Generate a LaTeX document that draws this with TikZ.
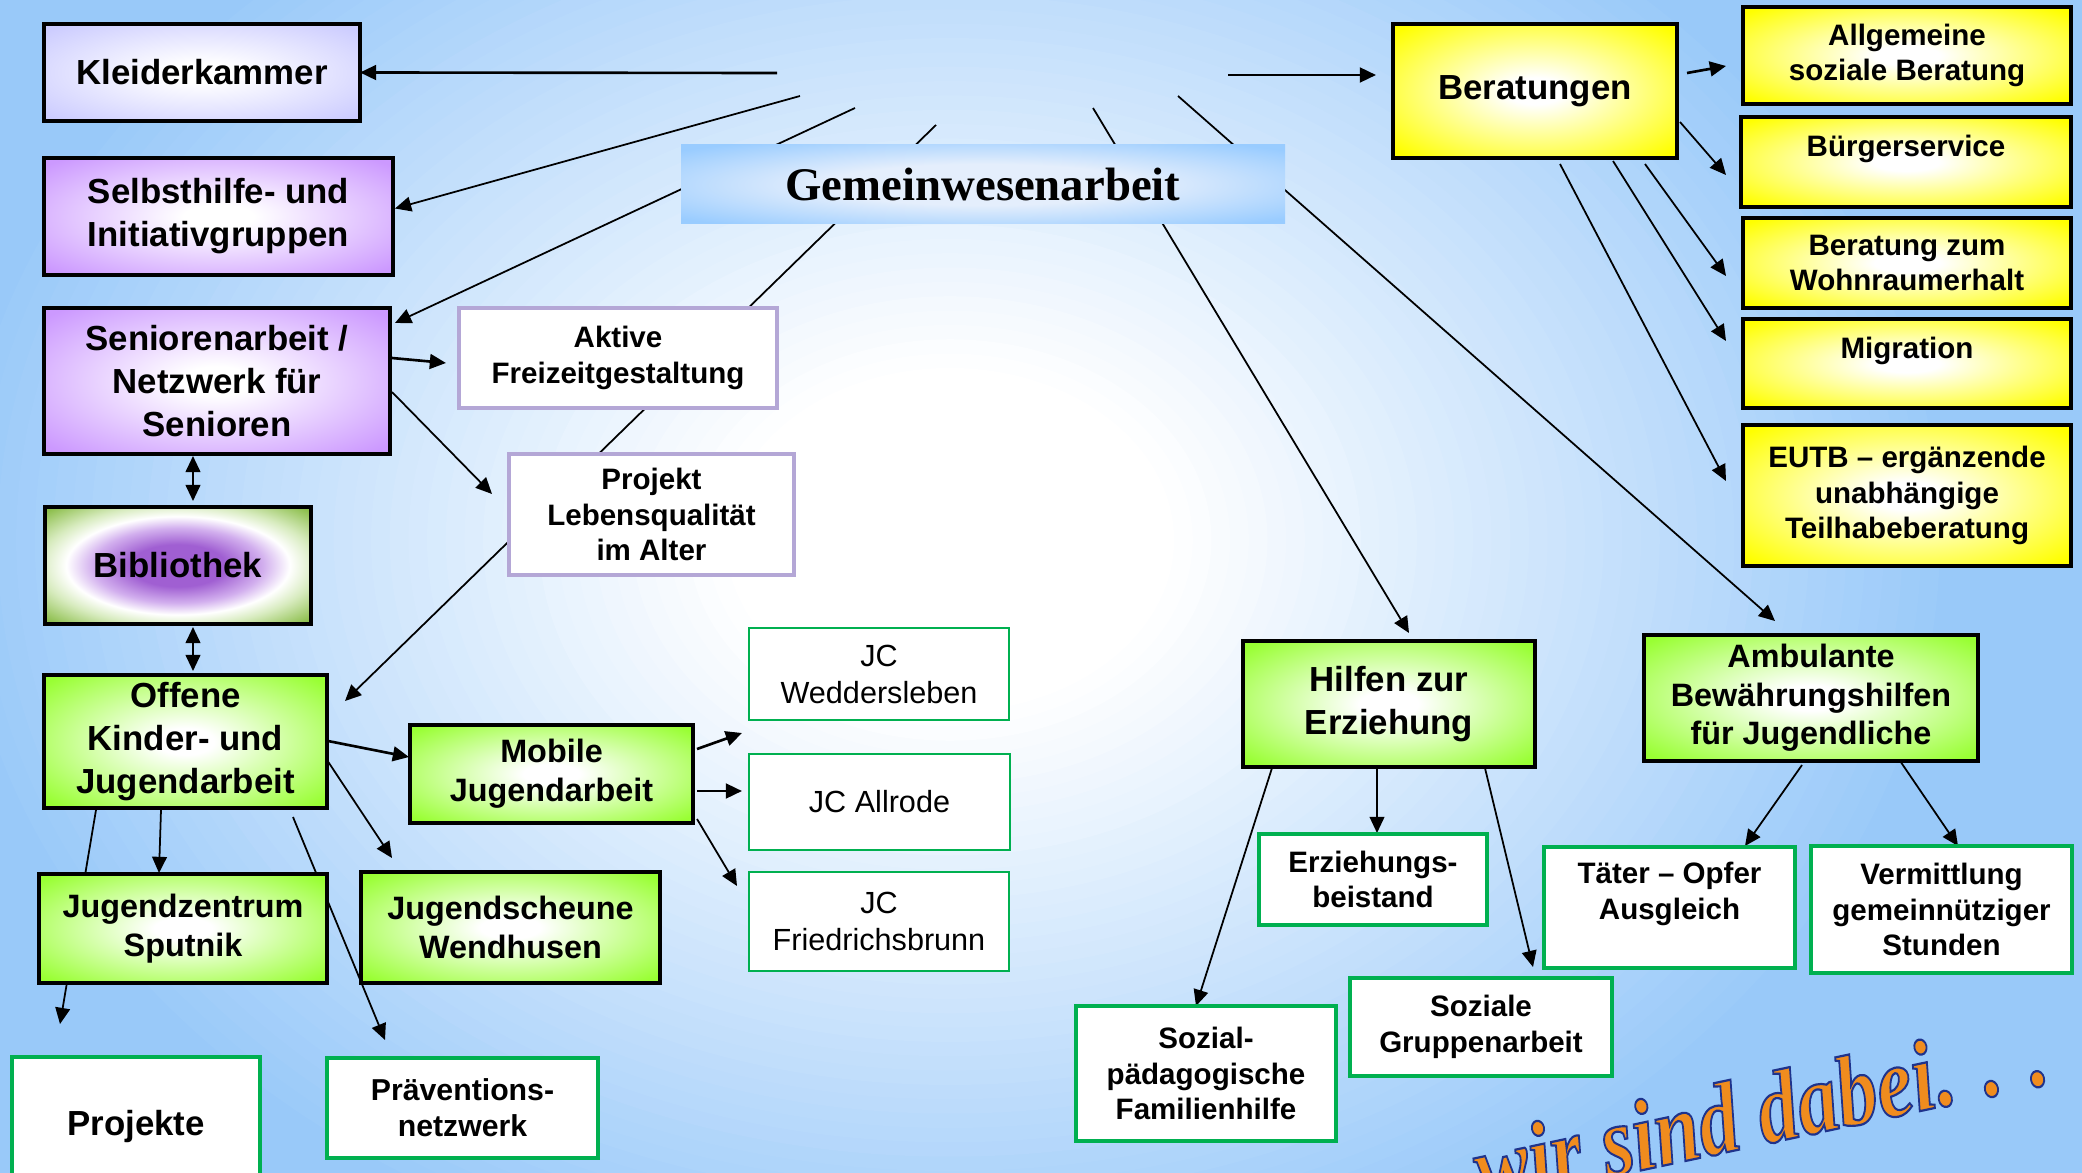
\documentclass[tikz,border=0pt]{standalone}
\usepackage{fontspec}
\setmainfont{Liberation Sans}
\newfontfamily\titlefont{Liberation Serif}
\usetikzlibrary{arrows.meta,calc}
\pgfdeclarelayer{bgl}
\pgfdeclarelayer{conn}
\pgfsetlayers{bgl,conn,main}
\definecolor{bgblue}{RGB}{153,201,249}
\definecolor{lavc}{RGB}{204,204,255}
\definecolor{purc}{RGB}{204,153,255}
\definecolor{grc}{RGB}{153,255,51}
\definecolor{yelc}{RGB}{255,255,0}
\definecolor{titleout}{RGB}{153,204,255}
\definecolor{titlein}{RGB}{228,238,252}
\definecolor{bibgreen}{RGB}{140,190,75}
\definecolor{biblg}{RGB}{215,235,190}
\definecolor{bibpurple}{RGB}{160,95,210}
\definecolor{bibpl}{RGB}{210,175,238}
\definecolor{gborder}{RGB}{0,176,80}
\definecolor{lavborder}{RGB}{180,167,214}
\definecolor{orangec}{RGB}{240,140,30}
\pgfdeclareradialshading{lavsh}{\pgfpointorigin}{color(0bp)=(white); color(5bp)=(white); color(33bp)=(lavc); color(50bp)=(lavc)}
\pgfdeclareradialshading{pursh}{\pgfpointorigin}{color(0bp)=(white); color(5bp)=(white); color(33bp)=(purc); color(50bp)=(purc)}
\pgfdeclareradialshading{grsh}{\pgfpointorigin}{color(0bp)=(white); color(5bp)=(white); color(33bp)=(grc); color(50bp)=(grc)}
\pgfdeclareradialshading{yelsh}{\pgfpointorigin}{color(0bp)=(white); color(5bp)=(white); color(33bp)=(yelc); color(50bp)=(yelc)}
\pgfdeclareradialshading{titlesh}{\pgfpointorigin}{color(0bp)=(titlein); color(13bp)=(titlein); color(33bp)=(titleout); color(50bp)=(titleout)}
\pgfdeclareradialshading{bibsh}{\pgfpointorigin}{color(0bp)=(bibpurple); color(9bp)=(bibpurple); color(16bp)=(bibpl); color(21bp)=(white); color(26bp)=(biblg); color(34bp)=(bibgreen); color(50bp)=(bibgreen)}
\tikzset{
  sz/.style 2 args={minimum width=#1*0.01cm, minimum height=#2*0.01cm},
  box/.style={rectangle, inner sep=0pt, outer sep=0pt, align=center},
  big/.style={font=\bfseries\fontsize{9.9}{12.2}\selectfont},
  mid/.style={font=\bfseries\fontsize{9.2}{11}\selectfont},
  sml/.style={font=\bfseries\fontsize{8.4}{10.1}\selectfont},
  blk/.style={box, draw=black, line width=1.1pt},
  lavbox/.style={blk, shade, shading=lavsh},
  purbox/.style={blk, shade, shading=pursh},
  grbox/.style={blk, shade, shading=grsh},
  yelbox/.style={blk, shade, shading=yelsh},
  yelsmall/.style={box, draw=black, line width=1pt, shade, shading=yelsh, sml},
  bibbox/.style={blk, shade, shading=bibsh},
  wgreen/.style={box, fill=white, draw=gborder, line width=1.3pt, sml},
  jcbox/.style={box, fill=white, draw=gborder, line width=0.8pt, font=\fontsize{8.7}{10.5}\selectfont},
  wlav/.style={box, fill=white, draw=lavborder, line width=1.1pt, sml},
  titlebox/.style={box, shade, shading=titlesh},
  uptext/.style={text depth=#1},
  arr/.style={draw=black, line width=0.5pt, -{Triangle[length=4.6pt,width=4.2pt]}},
  arrthick/.style={arr, line width=0.75pt},
  darr/.style={draw=black, line width=0.6pt, {Triangle[length=4.6pt,width=4.2pt]}-{Triangle[length=4.6pt,width=4.2pt]}}
}
\begin{document}
\begin{tikzpicture}[x=0.01cm,y=-0.01cm]
\useasboundingbox (0,0) rectangle (2082,1173);
\begin{pgfonlayer}{bgl}
\begin{scope}
\clip (0,0) rectangle (2082,1173);
\fill[bgblue] (0,0) rectangle (2082,1173);
\foreach \i in {60,59,...,1}{
  \pgfmathsetmacro\f{\i/60}
  \pgfmathtruncatemacro\p{max(0,min(100,(\f-0.2)/0.7*100))}
  \fill[bgblue!\p!white] (950,540) ellipse [x radius=\f*11.2cm, y radius=\f*8.6cm];
}
\end{scope}
\end{pgfonlayer}

% left column
\node[lavbox, big, sz={316}{97}] (kleider) at (202,72.5) {Kleiderkammer};
\node[purbox, big, sz={349}{117}] (selbst) at (218.5,216.5) {Selbsthilfe- und\\Initiativgruppen};
\node[purbox, big, sz={346}{146}] (senior) at (217,381) {Seniorenarbeit /\\Netzwerk für\\Senioren};
\node[bibbox, big, sz={266}{117}] (biblio) at (178,565.5) {Bibliothek};
\node[grbox, big, sz={283}{133}] (offene) at (185.5,741.5) {Offene\\Kinder- und\\Jugendarbeit};
\node[grbox, mid, sz={288}{109}] (jzent) at (183,928.5) {Jugendzentrum\\Sputnik};
\node[grbox, mid, sz={299}{111}] (jscheune) at (510.5,927.5) {Jugendscheune\\Wendhusen};
\node[grbox, mid, sz={283}{98}] (mobile) at (551.5,774) {Mobile\\Jugendarbeit};
\node[wgreen, big, sz={248}{138}] (projekte) at (136,1126) {Projekte};
\node[wgreen, font=\bfseries\fontsize{8.6}{10.2}\selectfont, sz={271}{100}] (praev) at (462.5,1108) {Präventions-\\netzwerk};
\node[wlav, sz={318}{100}] (aktive) at (618,358) {Aktive\\Freizeitgestaltung};
\node[wlav, sz={285}{121}] (projleb) at (651.5,514.5) {Projekt\\Lebensqualität\\im Alter};
\node[jcbox, sz={260}{92}] (jcw) at (879,674) {JC\\Weddersleben};
\node[jcbox, sz={261}{96}] (jca) at (879.5,802) {JC Allrode};
\node[jcbox, sz={260}{99}] (jcf) at (879,921.5) {JC\\Friedrichsbrunn};

% title
\node[titlebox, sz={604}{79}] (titel) at (983,184.5) {\titlefont\bfseries\fontsize{13.3}{16}\selectfont Gemeinwesenarbeit};

% right side
\node[yelbox, big, sz={284}{134}] (berat) at (1535,91) {Beratungen};
\node[yelsmall, sz={328}{97}] (allg) at (1907,55.5) {Allgemeine\\soziale Beratung};
\node[yelsmall, sz={330}{90}, uptext=0.32cm] (buerger) at (1906,162) {Bürgerservice};
\node[yelsmall, sz={328}{90}] (wohn) at (1907,263) {Beratung zum\\Wohnraumerhalt};
\node[yelsmall, sz={328}{89}, uptext=0.32cm] (migr) at (1907,363.5) {Migration};
\node[yelsmall, sz={328}{141}] (eutb) at (1907,495.5) {EUTB – ergänzende\\unabhängige\\Teilhabeberatung};
\node[grbox, big, sz={292}{126}] (hilfen) at (1389,704) {Hilfen zur\\Erziehung};
\node[grbox, mid, sz={334}{126}] (ambu) at (1811,698) {Ambulante\\Bewährungshilfen\\für Jugendliche};
\node[wgreen, sz={228}{91}] (erzb) at (1373,879.5) {Erziehungs-\\beistand};
\node[wgreen, sz={260}{135}] (spfh) at (1206,1073.5) {Sozial-\\pädagogische\\Familienhilfe};
\node[wgreen, sz={262}{98}] (sgruppe) at (1481,1027) {Soziale\\Gruppenarbeit};
\node[wgreen, sz={251}{121}, uptext=0.33cm] (taeter) at (1669.5,907.5) {Täter – Opfer\\Ausgleich};
\node[wgreen, sz={261}{127}] (verm) at (1941.5,909.5) {Vermittlung\\gemeinnütziger\\Stunden};

% free ends of the fan lines
\coordinate (c1) at (777,73);
\coordinate (c2) at (800,96);
\coordinate (c3) at (855,108);
\coordinate (c4) at (936,125);
\coordinate (c5) at (1093,108);
\coordinate (c6) at (1178,96);
\coordinate (c7) at (1228,75);

\begin{pgfonlayer}{conn}
\draw[arrthick] (c1) -- (kleider.east);
\draw[arr] (c2) -- ($(selbst.east)+(2,-8)$);
\draw[arr] (c3) -- ($(senior.north east)+(5,15)$);
\draw[arr] (c4) -- ($(offene.north east)+(18,26)$);
\draw[arr] (c5) -- ($(hilfen.north)+(20,-8)$);
\draw[arr] (c6) -- ($(ambu.north)+(-36,-14)$);
\draw[arrthick] (c7) -- ($(berat.west)+(-17,-16)$);
\draw[arrthick] ($(senior.east)+(2,-23)$) -- ($(aktive.west)+(-13,5)$);
\draw[arr] ($(senior.east)+(2,11)$) -- ($(projleb.north west)+(-17,40)$);
\draw[darr] ($(senior.south)+(-24,2)$) -- ($(biblio.north)+(15,-6)$);
\draw[darr] ($(biblio.south)+(15,3)$) -- ($(offene.north)+(7.5,-4)$);
\draw[arrthick] ($(offene.east)+(1,-0.5)$) -- ($(mobile.west)+(-1,-17)$);
\draw[arr] ($(offene.east)+(1,20)$) -- ($(jscheune.north west)+(31,-14)$);
\draw[arr] ($(offene.south)+(-24.5,2)$) -- ($(jzent.north)+(-24,-1)$);
\draw[arr] ($(offene.south west)+(52,2)$) -- ($(projekte.north west)+(48,-33)$);
\draw[arr] ($(offene.south east)+(-34,9)$) -- ($(praev.north west)+(58,-18)$);
\draw[arrthick] ($(mobile.east)+(4,-25)$) -- ($(jcw.south west)+(-7,13)$);
\draw[arrthick] ($(mobile.east)+(4,17)$) -- ($(jca.west)+(-7,-11)$);
\draw[arr] ($(mobile.east)+(4,45)$) -- ($(jcf.north west)+(-12,14)$);
\draw[arrthick] ($(berat.east)+(10,-18)$) -- ($(allg.west)+(-17,10.5)$);
\draw[arr] ($(berat.east)+(3,31)$) -- ($(buerger.west)+(-15,13)$);
\draw[arr] ($(berat.south east)+(-32,6)$) -- ($(wohn.west)+(-17,13)$);
\draw[arr] ($(berat.south east)+(-64,3)$) -- ($(migr.west)+(-17,-22.5)$);
\draw[arr] ($(berat.south)+(25,6)$) -- ($(eutb.west)+(-17,-14.5)$);
\draw[arr] ($(hilfen.south west)+(29,1)$) -- ($(spfh.north)+(-10,0)$);
\draw[arr] ($(hilfen.south)+(-12,0)$) -- ($(erzb.north)+(4,-1)$);
\draw[arr] ($(hilfen.south east)+(-51,-3)$) -- ($(sgruppe.north east)+(-79,-11)$);
\draw[arr] ($(ambu.south)+(-9,4)$) -- ($(taeter.north east)+(-50,-1)$);
\draw[arr] ($(ambu.south east)+(-82,-6)$) -- ($(verm.north)+(16.5,0)$);
\end{pgfonlayer}

\node[transform shape, rotate=12, yscale=1.25, text=orangec, inner sep=0pt, font=\titlefont\bfseries\itshape\fontsize{23}{26}\selectfont] (wir) at (1760,1110) {\special{pdf:literal direct 0.12 0.2 0.55 RG 0.5 w 2 Tr}wir sind dabei. . .\special{pdf:literal direct 0 Tr}};
\end{tikzpicture}
\end{document}
